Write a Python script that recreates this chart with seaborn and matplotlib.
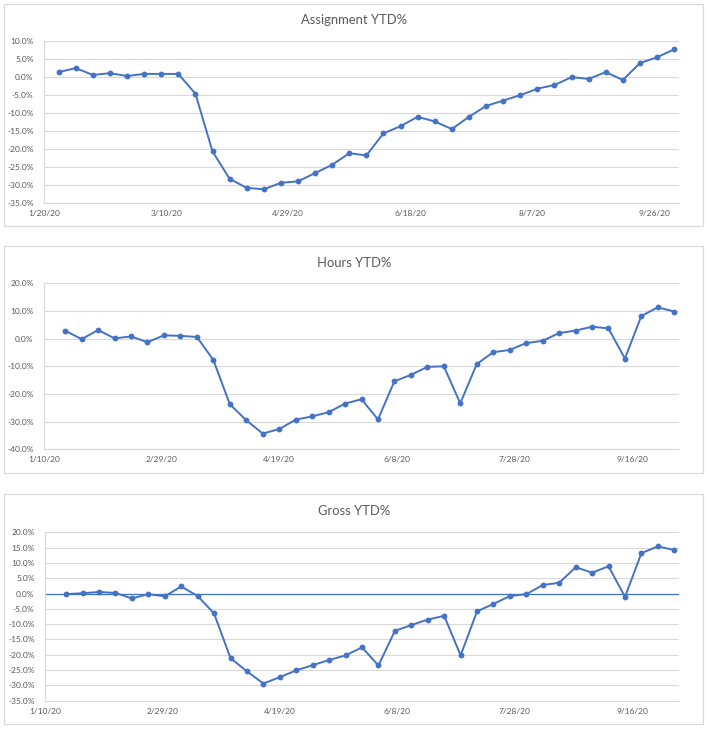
import matplotlib
matplotlib.use("Agg")
import numpy as np
import pandas as pd
import matplotlib.pyplot as plt
import seaborn as sns
from matplotlib.patches import Rectangle

# ---------------- data ----------------
week_dates = [
    "2020-01-19", "2020-01-26", "2020-02-02", "2020-02-09", "2020-02-16", "2020-02-23",
    "2020-03-01", "2020-03-08", "2020-03-15", "2020-03-22", "2020-03-29", "2020-04-05",
    "2020-04-12", "2020-04-19", "2020-04-26", "2020-05-03", "2020-05-10", "2020-05-17",
    "2020-05-24", "2020-05-31", "2020-06-07", "2020-06-14", "2020-06-21", "2020-06-28",
    "2020-07-05", "2020-07-12", "2020-07-19", "2020-07-26", "2020-08-02", "2020-08-09",
    "2020-08-16", "2020-08-23", "2020-08-30", "2020-09-06", "2020-09-13", "2020-09-20",
    "2020-09-27", "2020-10-04",
]

# Assignment series starts one week later (1/26/20)
assignment_dates = week_dates[1:]
assignment_ytd = [
    1.3, 2.4, 0.5, 1.0, 0.2, 0.8, 0.8, 0.8, -4.7, -20.7,
    -28.3, -30.8, -31.2, -29.4, -29.0, -26.7, -24.4, -21.2, -21.8, -15.7,
    -13.7, -11.1, -12.4, -14.5, -11.1, -8.1, -6.6, -5.1, -3.3, -2.3,
    -0.1, -0.6, 1.3, -0.9, 3.8, 5.4, 7.6,
]

hours_ytd = [
    2.9, -0.2, 3.1, 0.1, 0.8, -1.3, 1.2, 1.0, 0.6, -7.7,
    -23.7, -29.5, -34.3, -32.7, -29.3, -28.1, -26.6, -23.5, -21.9, -29.2,
    -15.4, -13.1, -10.2, -10.0, -23.4, -9.2, -4.9, -4.1, -1.6, -0.8,
    2.0, 2.9, 4.3, 3.7, -7.2, 8.2, 11.3, 9.8,
]

gross_ytd = [
    -0.2, 0.1, 0.5, 0.2, -1.6, -0.2, -0.9, 2.3, -0.8, -6.5,
    -21.1, -25.4, -29.4, -27.3, -25.1, -23.4, -21.7, -20.2, -17.6, -23.5,
    -12.2, -10.3, -8.5, -7.3, -20.2, -5.8, -3.4, -0.8, -0.2, 2.8,
    3.5, 8.6, 6.8, 8.9, -1.1, 13.2, 15.4, 14.2,
]

titles = ["Assignment YTD%", "Hours YTD%", "Gross YTD%"]
assignment_xticks = ["2020-01-20", "2020-03-10", "2020-04-29", "2020-06-18", "2020-08-07", "2020-09-26"]
hg_xticks = ["2020-01-10", "2020-02-29", "2020-04-19", "2020-06-08", "2020-07-28", "2020-09-16"]
assignment_yticks = [10, 5, 0, -5, -10, -15, -20, -25, -30, -35]
hours_yticks = [20, 10, 0, -10, -20, -30, -40]
gross_yticks = [20, 15, 10, 5, 0, -5, -10, -15, -20, -25, -30, -35]

# ---------------- style ----------------
sns.set_style("white")
plt.rcParams["font.family"] = ["Lato", "DejaVu Sans"]

LINE = "#4472C4"
GRID = "#D9D9D9"
TXT = "#595959"

W, H = 709, 729
fig = plt.figure(figsize=(W / 100, H / 100), dpi=100)
fig.patch.set_facecolor("white")


def px_axes(x0, y0, x1, y1):
    return fig.add_axes([x0 / W, 1 - y1 / H, (x1 - x0) / W, (y1 - y0) / H])


def fmt_date(s):
    d = pd.Timestamp(s)
    return f"{d.month}/{d.day}/{d.year % 100}"


frames = [(4, 4, 703, 226), (4, 246, 703, 473), (4, 494, 703, 724)]
plot_boxes = [(44, 40.7, 679, 203), (44, 283.3, 679, 449.3), (45, 532.3, 679, 700.7)]
title_y = [20, 263, 511]

series = [
    (assignment_dates, assignment_ytd, assignment_xticks, assignment_yticks, "2020-01-20"),
    (week_dates, hours_ytd, hg_xticks, hours_yticks, "2020-01-10"),
    (week_dates, gross_ytd, hg_xticks, gross_yticks, "2020-01-10"),
]

for i, (dates, vals, xt, yt, xmin) in enumerate(series):
    fx0, fy0, fx1, fy1 = frames[i]
    fig.patches.append(Rectangle((fx0 / W, 1 - fy1 / H), (fx1 - fx0) / W, (fy1 - fy0) / H,
                                 transform=fig.transFigure, fill=False,
                                 edgecolor=GRID, linewidth=0.9, zorder=0))
    ax = px_axes(*plot_boxes[i])
    df = pd.DataFrame({"date": pd.to_datetime(dates), "value": vals})
    ax.set_axisbelow(True)
    ax.grid(axis="y", color=GRID, linewidth=0.8)
    ax.grid(axis="x", visible=False)
    if i == 2:
        ax.axhline(0, color=LINE, linewidth=0.9, zorder=1)
    sns.lineplot(data=df, x="date", y="value", ax=ax, color=LINE, linewidth=1.4,
                 marker="o", markersize=4.2, markeredgewidth=0, zorder=3)
    ax.set_xlim(pd.Timestamp(xmin), pd.Timestamp("2020-10-06"))
    ax.set_ylim(min(yt), max(yt))
    ax.set_yticks(yt)
    ax.set_yticklabels([f"{v:.1f}%" for v in yt])
    ax.set_xticks(pd.to_datetime(xt))
    ax.set_xticklabels([fmt_date(s) for s in xt])
    ax.set_xlabel("")
    ax.set_ylabel("")
    ax.tick_params(axis="both", length=0, labelsize=6.0, labelcolor=TXT)
    ax.tick_params(axis="y", pad=7.5)
    ax.tick_params(axis="x", pad=5)
    for side in ["top", "right"]:
        ax.spines[side].set_visible(False)
    ax.spines["left"].set_color(GRID)
    ax.spines["left"].set_linewidth(0.8)
    ax.spines["bottom"].set_color(GRID)
    ax.spines["bottom"].set_linewidth(0.8)
    ax.set_facecolor("none")
    fig.text(354 / W, 1 - title_y[i] / H, titles[i], ha="center", va="center",
             fontsize=9.4, color=TXT)

fig.savefig("out.png", dpi=100, facecolor="white")
